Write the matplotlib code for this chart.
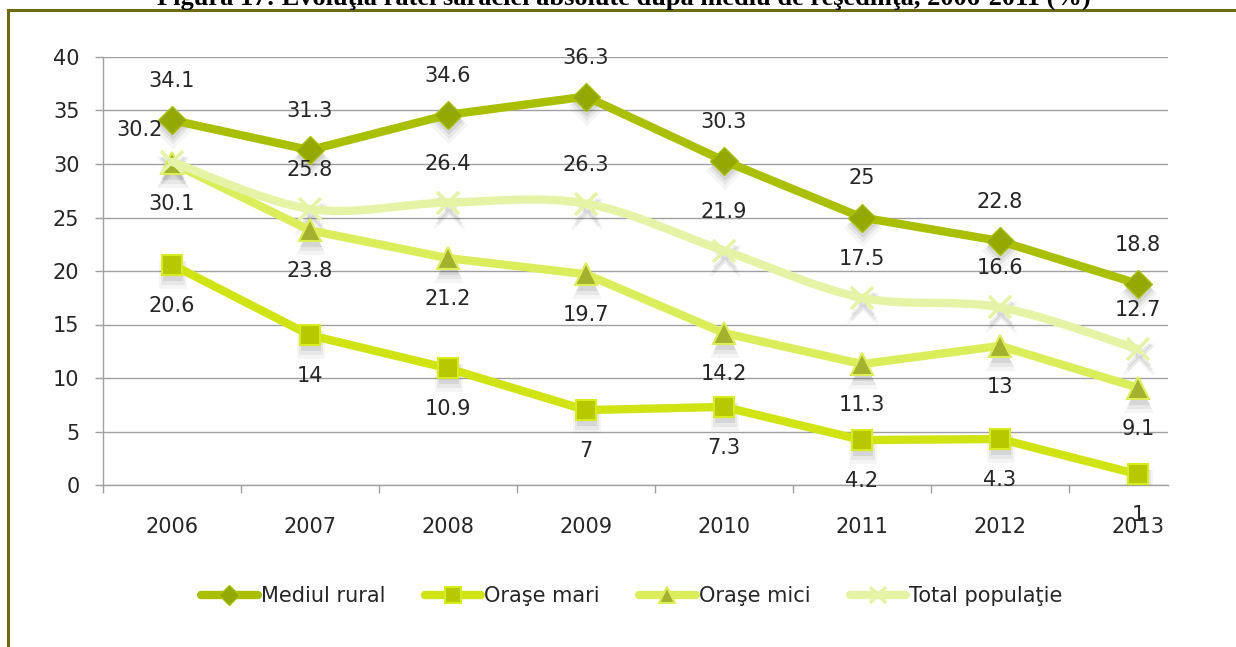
import matplotlib
matplotlib.use("Agg")
import matplotlib.pyplot as plt
import matplotlib.transforms as mtransforms
from matplotlib.lines import Line2D
from matplotlib.path import Path
from matplotlib.patches import PathPatch
import numpy as np

plt.rcParams["font.family"] = ["DejaVu Sans"]

# ── date ─────────────────────────────────────────────────────────────────────
years = ["2006", "2007", "2008", "2009", "2010", "2011", "2012", "2013"]
mediul_rural = [34.1, 31.3, 34.6, 36.3, 30.3, 25, 22.8, 18.8]
orase_mari = [20.6, 14, 10.9, 7, 7.3, 4.2, 4.3, 1]
orase_mici = [30.1, 23.8, 21.2, 19.7, 14.2, 11.3, 13, 9.1]
total_populatie = [30.2, 25.8, 26.4, 26.3, 21.9, 17.5, 16.6, 12.7]
series_names = ["Mediul rural", "Oraşe mari", "Oraşe mici", "Total populaţie"]

TITLE = "Figura 17: Evoluţia ratei sărăciei absolute după mediu de reşedinţă, 2006-2011 (%)"
TXT = "#262626"
GRID = "#a0a0a0"
FRAME = "#6b6b14"
FS = 15

# name, values, line colour, marker, face, edge, size, mew, label side, smooth
styles = [
    (series_names[0], mediul_rural, "#a9bf00", "D", "#93a800", "#a9bf00", 14, 1.0, 1, False),
    (series_names[1], orase_mari, "#d0e414", "s", "#b6c900", "#d8ec1c", 15, 1.5, -1, False),
    (series_names[2], orase_mici, "#dbed5a", "^", "#a2b22e", "#dded5a", 16, 1.5, -1, False),
    (series_names[3], total_populatie, "#e5f3a6", "x", "#e5f3a6", "#e5f3a6", 16, 2.6, 1, True),
]


def smooth_path(x, y):
    """Curbă Bezier tip Catmull-Rom (netezirea din Excel)."""
    pts = np.column_stack([x, y]).astype(float)
    ext = np.vstack([pts[0], pts, pts[-1]])
    verts = [pts[0]]
    codes = [Path.MOVETO]
    for i in range(len(pts) - 1):
        p0, p1, p2, p3 = ext[i], ext[i + 1], ext[i + 2], ext[i + 3]
        verts += [p1 + (p2 - p0) / 6, p2 - (p3 - p1) / 6, p2]
        codes += [Path.CURVE4] * 3
    return Path(verts, codes)


W, H = 1236, 647
fig = plt.figure(figsize=(W / 100, H / 100), dpi=100)
ax = fig.add_axes([103 / W, 1 - 485 / H, (1168 - 103) / W, (485 - 57) / H])

x = np.arange(len(years))
# straturi de umbră: (deplasare x, deplasare y, mărire marker, alpha)
shadow_layers = [(1, -6, 0, 0.10), (1, -8, 2, 0.07), (1, -10, 5, 0.05)]

handles = []
for k, (name, vals, col, mk, face, edge, ms, mew, side, smooth) in enumerate(styles):
    z = 3 + k
    if smooth:
        patch = PathPatch(smooth_path(x, vals), fill=False, edgecolor=col, lw=6,
                          capstyle="round", joinstyle="round", zorder=z)
        ax.add_patch(patch)
    else:
        ax.plot(x, vals, color=col, lw=6, solid_joinstyle="round",
                solid_capstyle="round", zorder=z)
    # umbra markerelor (câteva straturi, ca un blur)
    for sx, sy, extra, al in shadow_layers:
        tr = mtransforms.offset_copy(ax.transData, fig=fig, x=sx, y=sy, units="dots")
        ax.plot(x, vals, ls="none", marker=mk, ms=ms + extra, mfc="#404040",
                mec="#404040" if mk == "x" else "none", mew=mew if mk == "x" else 0,
                alpha=al, transform=tr, zorder=2)
    ax.plot(x, vals, ls="none", marker=mk, ms=ms, mfc=face, mec=edge, mew=mew,
            zorder=z + 0.5)
    handles.append(Line2D([], [], color=col, lw=6, solid_capstyle="round",
                          marker=mk, ms=ms * 0.75, mfc=face, mec=edge, mew=mew))

    for i, v in enumerate(vals):
        dx, dy = 0, 39 * side if side > 0 else 41 * side
        if name == series_names[3] and i == 0:
            dx, dy = -32, 32
        ax.annotate(f"{v:g}", (x[i], v), xytext=(dx, dy), textcoords="offset pixels",
                    ha="center", va="center", fontsize=FS, color=TXT, zorder=10)

ax.set_xlim(-0.5, 7.217)
ax.set_ylim(0, 40)
ax.set_yticks(range(0, 41, 5))
ax.set_xticks(x)
ax.set_xticklabels(years)
ax.set_xticks(np.arange(-0.5, 7.0, 1.0), minor=True)
ax.tick_params(axis="x", which="major", length=0, pad=23, labelsize=FS, labelcolor=TXT)
ax.tick_params(axis="x", which="minor", length=6, width=1.0, color=GRID, direction="out")
ax.tick_params(axis="y", length=6, width=1.0, color=GRID, pad=11, labelsize=FS,
               labelcolor=TXT)
ax.grid(axis="y", color=GRID, lw=1.0, zorder=0)
ax.set_axisbelow(True)
for s in ["top", "right"]:
    ax.spines[s].set_visible(False)
for s in ["left", "bottom"]:
    ax.spines[s].set_color(GRID)
    ax.spines[s].set_linewidth(1.0)

fig.legend(handles, series_names, loc="center", ncol=4, frameon=False,
           bbox_to_anchor=(632 / W, 1 - 596 / H), fontsize=FS, handlelength=2.7,
           handletextpad=0.15, columnspacing=1.9, labelcolor=TXT)

# titlu tăiat de marginea de sus
fig.text(624 / W, 1 - 5 / H, TITLE, ha="center", va="baseline", fontsize=19,
         fontweight="bold", family="Liberation Serif", color="black")

# chenar
fig.add_artist(Line2D([8 / W, 1], [1 - 10 / H, 1 - 10 / H], color=FRAME, lw=2.2,
                      transform=fig.transFigure))
fig.add_artist(Line2D([8 / W, 8 / W], [0, 1 - 10 / H], color=FRAME, lw=2.2,
                      transform=fig.transFigure))

fig.savefig("out.png", dpi=100)
